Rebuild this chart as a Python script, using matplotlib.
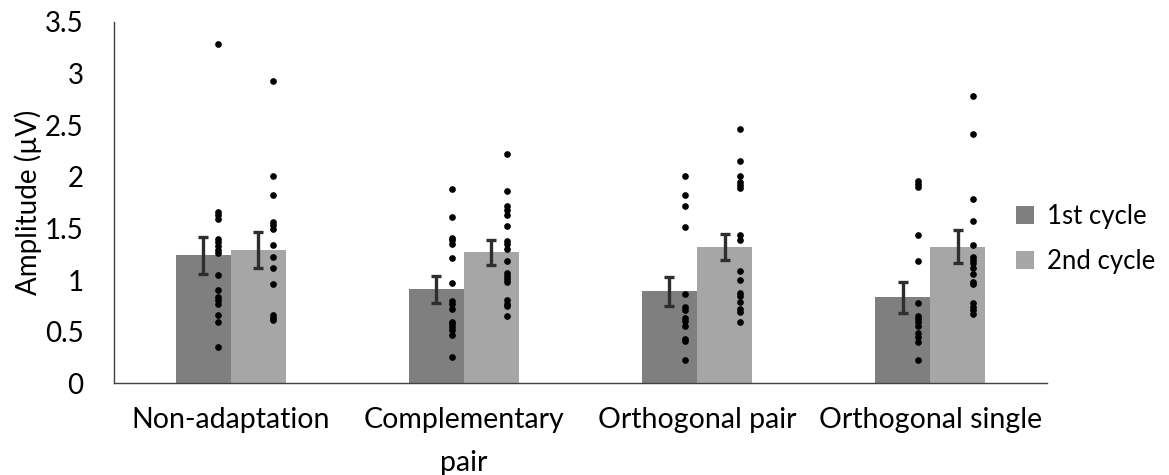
import matplotlib.pyplot as plt
import numpy as np

categories = ["Non-adaptation", "Complementary\npair", "Orthogonal pair", "Orthogonal single"]
series_names = ["1st cycle", "2nd cycle"]

mean_1st = [1.24, 0.91, 0.89, 0.835]
sem_1st = [0.18, 0.13, 0.14, 0.15]
mean_2nd = [1.29, 1.27, 1.32, 1.32]
sem_2nd = [0.17, 0.12, 0.125, 0.16]

dots_1st = [
    [3.285, 1.663, 1.632, 1.593, 1.396, 1.364, 1.325, 1.293, 1.260, 1.051,
     0.899, 0.835, 0.803, 0.764, 0.664, 0.590, 0.351],
    [1.879, 1.605, 1.409, 1.383, 1.344, 1.216, 0.970, 0.796, 0.764, 0.716,
     0.593, 0.571, 0.544, 0.519, 0.464, 0.254],
    [2.002, 1.818, 1.712, 1.512, 0.867, 0.738, 0.706, 0.635, 0.603, 0.554,
     0.432, 0.409, 0.229],
    [1.954, 1.931, 1.899, 1.438, 1.180, 0.780, 0.648, 0.626, 0.593, 0.551,
     0.490, 0.448, 0.399, 0.222],
]
dots_2nd = [
    [2.924, 2.002, 1.818, 1.560, 1.528, 1.489, 1.335, 1.222, 1.115, 0.964,
     0.658, 0.635, 0.609],
    [2.215, 1.860, 1.712, 1.673, 1.634, 1.518, 1.376, 1.344, 1.302, 1.183,
     1.067, 1.035, 1.012, 0.980, 0.803, 0.771, 0.745, 0.648],
    [2.463, 2.147, 2.002, 1.947, 1.922, 1.889, 1.431, 1.390, 1.083, 0.996,
     0.873, 0.841, 0.786, 0.722, 0.690, 0.593],
    [2.785, 2.415, 1.786, 1.570, 1.341, 1.222, 1.190, 1.163, 1.119, 1.061,
     0.980, 0.964, 0.777, 0.738, 0.706, 0.667],
]

plt.rcParams["font.family"] = ["Lato", "DejaVu Sans"]

fig = plt.figure(figsize=(11.69, 4.75), dpi=100)
ax = fig.add_axes([0.0975, 0.193, 0.798, 0.7613])

x = np.arange(len(categories))
width = 0.236
colors = ["#7f7f7f", "#a6a6a6"]

for i, (means, sems, dots) in enumerate([(mean_1st, sem_1st, dots_1st), (mean_2nd, sem_2nd, dots_2nd)]):
    pos = x + (i - 0.5) * width
    ax.bar(pos, means, width, color=colors[i], label=series_names[i], zorder=1)
    ax.errorbar(pos, means, yerr=sems, fmt="none", ecolor="#2e2e2e",
                elinewidth=2.4, capsize=3.5, capthick=2.4, zorder=3)
    for p, vals in zip(pos, dots):
        ax.plot(np.full(len(vals), p + 0.066), vals, "o", color="black",
                markersize=3.8, linestyle="none", zorder=4)

ax.set_xlim(-0.5, len(categories) - 0.5)
ax.set_ylim(0, 3.5)
ax.set_yticks(np.arange(0, 3.51, 0.5))
ax.set_yticklabels(["0", "0.5", "1", "1.5", "2", "2.5", "3", "3.5"])
ax.set_xticks(x)
ax.set_xticklabels(categories, fontsize=20.5, linespacing=1.8)
ax.tick_params(axis="y", length=0, labelsize=20, pad=22)
ax.tick_params(axis="x", length=0, pad=17)
ax.set_ylabel("Amplitude (µV)", fontsize=20, labelpad=2)

for side in ["top", "right"]:
    ax.spines[side].set_visible(False)
for side in ["left", "bottom"]:
    ax.spines[side].set_color("#404040")
    ax.spines[side].set_linewidth(1.0)

fig.legend(loc="center left", bbox_to_anchor=(1016 / 1169, 1 - 239 / 475),
           frameon=False, borderpad=0, borderaxespad=0,
           fontsize=18.5, handlelength=0.7, handleheight=0.7,
           handletextpad=0.5, labelspacing=0.75)

fig.savefig("out.png", dpi=100)
